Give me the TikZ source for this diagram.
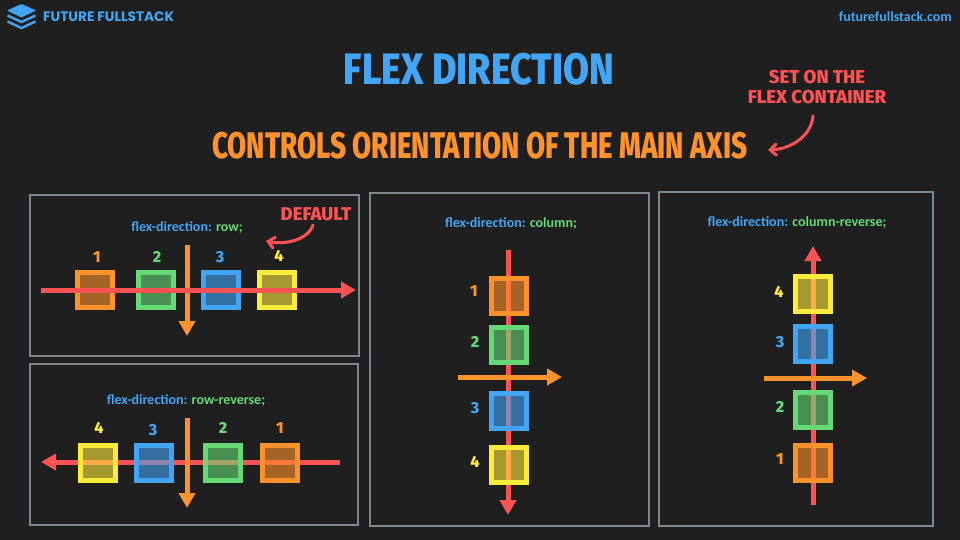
\documentclass[tikz,border=0pt]{standalone}
\usepackage{fontspec}
\setmainfont{Fira Sans}
\newfontfamily\hand{Fira Sans}[UprightFont=* ExtraBold]
\newfontfamily\logof{Poppins}[UprightFont=* Bold]
\newfontfamily\codef{Carlito}[UprightFont=* Bold]
\usetikzlibrary{arrows.meta}
\definecolor{bgc}{HTML}{1F1F1F}
\definecolor{cblue}{HTML}{42A5F5}
\definecolor{cgreen}{HTML}{66D977}
\definecolor{corange}{HTML}{FF922B}
\definecolor{cyellow}{HTML}{FFEB3B}
\definecolor{cred}{HTML}{FF5252}
\definecolor{cgray}{HTML}{7C878E}
\tikzset{
  panel/.style={draw=cgray,line width=2pt,fill=none,outer sep=0pt,inner sep=0pt},
  sq/.style={draw=#1,fill=#1,fill opacity=.6,text opacity=1,line width=5pt,minimum size=35pt,inner sep=0pt,outer sep=0pt},
  num/.style={text=#1,font=\hand\fontsize{16}{16}\selectfont,inner sep=0pt},
  redaxis/.style={draw=cred,line width=5pt,-{Triangle[length=15pt,width=16pt]}},
  orangeaxis/.style={draw=corange,line width=5pt,-{Triangle[length=15pt,width=16pt]}},
  code/.style={font=\codef\fontsize{14}{14}\selectfont,inner sep=0pt,text=cblue},
  curved/.style={draw=cred,line width=3pt,line cap=round,-{Straight Barb[length=6pt,width=11pt,line cap=round]}},
}
\newcommand{\gr}[1]{\textcolor{cgreen}{#1}}
\begin{document}
\begin{tikzpicture}[x=1pt,y=-1pt]
\useasboundingbox (0,0) rectangle (960,540);
\fill[bgc] (0,0) rectangle (960,540);
% logo
\fill[cblue,rounded corners=.8pt] (7,10.5) -- (21.5,4) -- (36,10.5) -- (21.5,17.5) -- cycle;
\draw[cblue,line width=2.4pt] (7.5,15.5) -- (21.5,22) -- (35.5,15.5);
\draw[cblue,line width=2.4pt] (7.5,21.5) -- (21.5,28) -- (35.5,21.5);
\node[text=cblue,font=\logof\fontsize{13.7}{14}\selectfont,anchor=west,inner sep=0pt] (brand) at (43,16.5) {FUTURE FULLSTACK};
\node[text=cblue,font=\codef\fontsize{14}{15}\selectfont,anchor=east,inner sep=0pt] (site) at (952,17) {futurefullstack.com};
% titles
\node[text=cblue,font=\hand\fontsize{44}{44}\selectfont,inner sep=0pt] (title) at (479,69) {\scalebox{.855}[1]{FLEX DIRECTION}};
\node[text=corange,font=\hand\fontsize{37}{37}\selectfont,inner sep=0pt] (sub) at (480,146) {\scalebox{.75}[1]{CONTROLS ORIENTATION OF THE MAIN AXIS}};
\node[text=cred,font=\hand\fontsize{18.6}{20}\selectfont,align=center,inner sep=0pt] (seton) at (817,87) {SET ON THE\\FLEX CONTAINER};
\coordinate (seta) at (813,116);
\coordinate (setb) at (768,150);
\draw[curved] (seta) .. controls (811,137) and (790,149) .. (setb);
% panels
\node[panel,anchor=north west,minimum width=329pt,minimum height=161pt] (p1) at (30,195) {};
\node[panel,anchor=north west,minimum width=328pt,minimum height=161pt] (p2) at (30,364) {};
\node[panel,anchor=north west,minimum width=279pt,minimum height=333pt] (p3) at (370,193) {};
\node[panel,anchor=north west,minimum width=274pt,minimum height=334pt] (p4) at (659,192) {};
% panel 1
\node[code] (t1) at (187,228) {flex-direction: \gr{row;}};
\node[text=cred,font=\hand\fontsize{18.5}{18}\selectfont,inner sep=0pt] (def) at (316,214) {DEFAULT};
\coordinate (defa) at (313,225);
\coordinate (defb) at (266,241);
\draw[curved] (defa) .. controls (308,240) and (285,245) .. (defb);
\node[sq=corange] (a1) at (95,290) {};
\node[sq=cgreen] (a2) at (156,290) {};
\node[sq=cblue] (a3) at (220.5,290) {};
\node[sq=cyellow] (a4) at (277,290) {};
\node[num=corange] (la1) at (97,257) {1};
\node[num=cgreen] (la2) at (157,257) {2};
\node[num=cblue] (la3) at (220,257) {3};
\node[num=cyellow] (la4) at (279,256) {4};
\coordinate (o1a) at (187,245); \coordinate (o1b) at (187,336);
\coordinate (r1a) at (41,290); \coordinate (r1b) at (356,290);
\draw[orangeaxis] (o1a) -- (o1b);
\draw[redaxis] (r1a) -- (r1b);
% panel 2
\node[code] (t2) at (186,401) {flex-direction: \gr{row-reverse;}};
\coordinate (o2a) at (187,418); \coordinate (o2b) at (187,508);
\coordinate (r2a) at (340,462); \coordinate (r2b) at (41,462);
\draw[redaxis] (r2a) -- (r2b);
\draw[orangeaxis] (o2a) -- (o2b);
\node[sq=cyellow] (b4) at (97.5,462.5) {};
\node[sq=cblue] (b3) at (153.5,462.5) {};
\node[sq=cgreen] (b2) at (223,462.5) {};
\node[sq=corange] (b1) at (279.5,462.5) {};
\node[num=cyellow] (lb4) at (99,428) {4};
\node[num=cblue] (lb3) at (153,430) {3};
\node[num=cgreen] (lb2) at (223,428) {2};
\node[num=corange] (lb1) at (280,428) {1};
% panel 3
\node[code] (t3) at (511,224) {flex-direction: \gr{column;}};
\coordinate (r3a) at (508,250); \coordinate (r3b) at (508,515);
\coordinate (o3a) at (458,377); \coordinate (o3b) at (562,377);
\draw[redaxis] (r3a) -- (r3b);
\draw[orangeaxis] (o3a) -- (o3b);
\node[sq=corange] (c1) at (508.5,295.5) {};
\node[sq=cgreen] (c2) at (508.5,344.5) {};
\node[sq=cblue] (c3) at (508.5,410.5) {};
\node[sq=cyellow] (c4) at (508.5,464.5) {};
\node[num=corange] (lc1) at (474,291) {1};
\node[num=cgreen] (lc2) at (475,342) {2};
\node[num=cblue] (lc3) at (475,408) {3};
\node[num=cyellow] (lc4) at (475,462) {4};
% panel 4
\node[code] (t4) at (797,223) {flex-direction: \gr{column-reverse;}};
\coordinate (r4a) at (813,505); \coordinate (r4b) at (813,246);
\coordinate (o4a) at (764,378); \coordinate (o4b) at (867,378);
\draw[redaxis] (r4a) -- (r4b);
\draw[orangeaxis] (o4a) -- (o4b);
\node[sq=cyellow] (d4) at (812.5,294) {};
\node[sq=cblue] (d3) at (812.5,344) {};
\node[sq=cgreen] (d2) at (812.5,409.5) {};
\node[sq=corange] (d1) at (812.5,462.5) {};
\node[num=cyellow] (ld4) at (779,292) {4};
\node[num=cblue] (ld3) at (780,342) {3};
\node[num=cgreen] (ld2) at (780,407) {2};
\node[num=corange] (ld1) at (780,459) {1};
\end{tikzpicture}
\end{document}
